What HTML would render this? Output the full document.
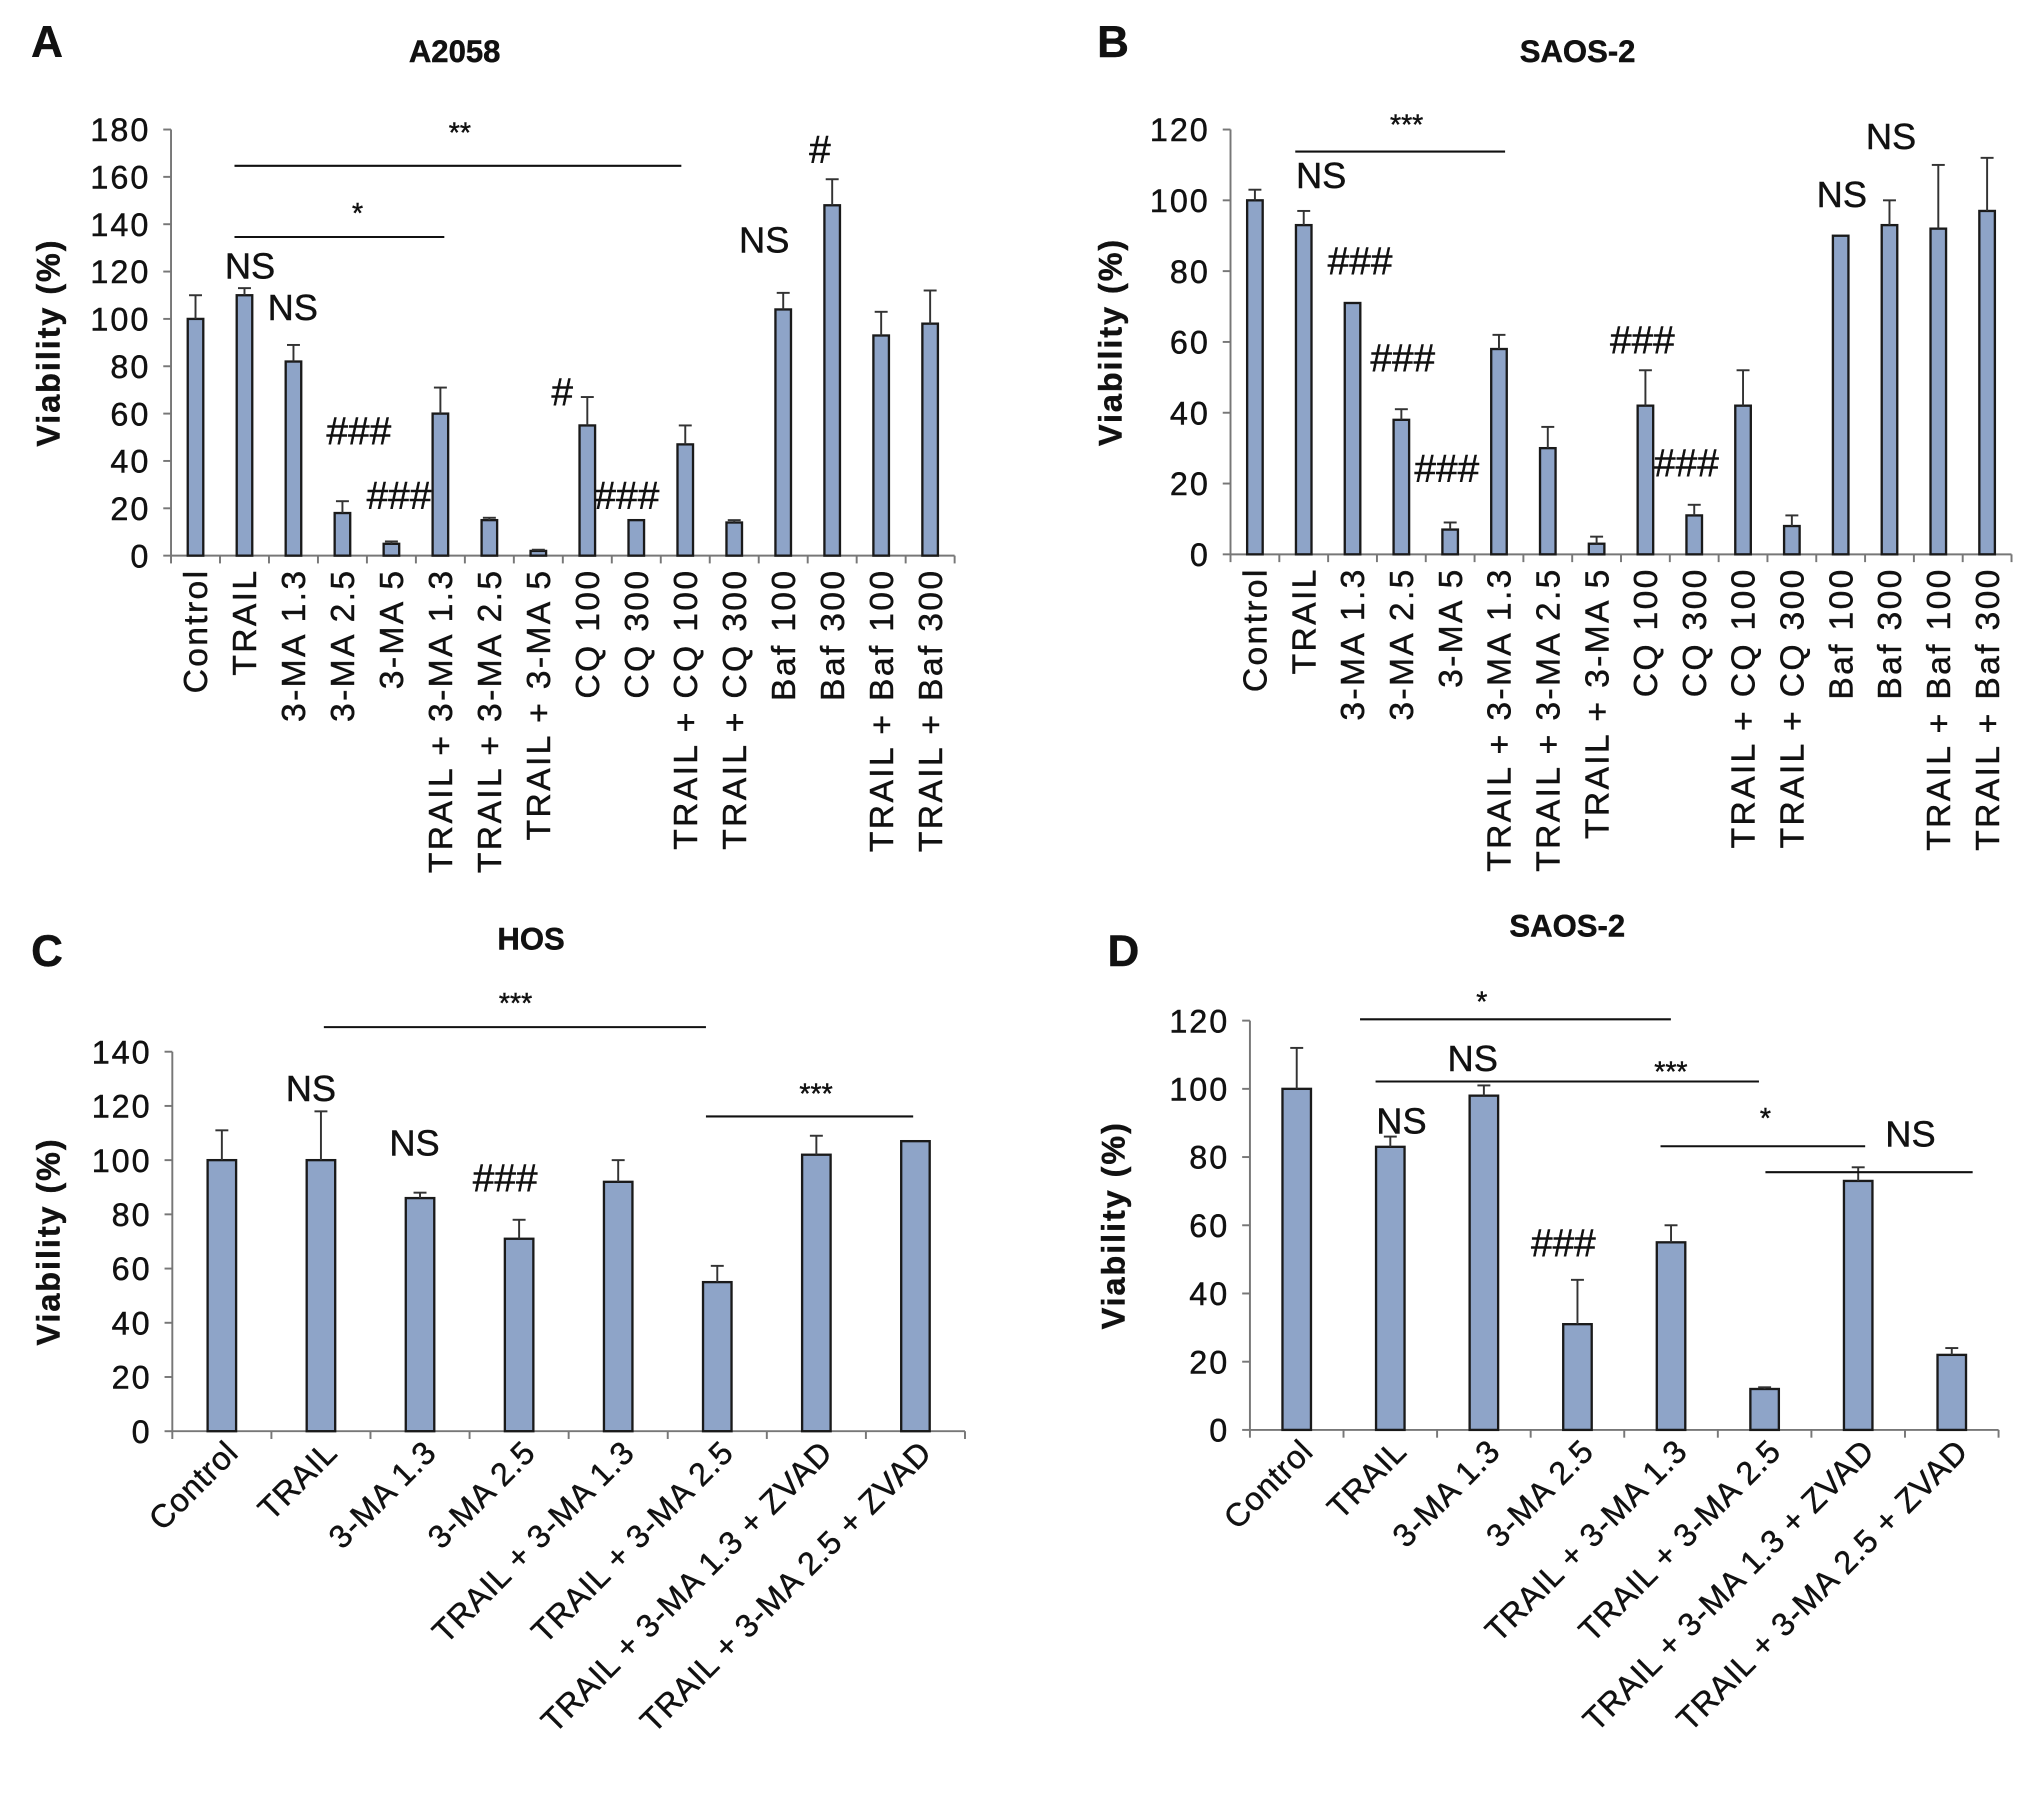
<!DOCTYPE html>
<html><head><meta charset="utf-8"><style>
html,body{margin:0;padding:0;background:#fff}
svg{display:block}
text{font-family:"Liberation Sans",Arial,sans-serif;fill:#111;stroke:#111;stroke-width:0.35}
</style></head><body>
<svg id="fig" width="2031" height="1812" viewBox="0 0 1568 1399" xmlns="http://www.w3.org/2000/svg"></svg>
<script>
// Panel A data
const catsA=["Control","TRAIL","3-MA 1.3","3-MA 2.5","3-MA 5","TRAIL + 3-MA 1.3","TRAIL + 3-MA 2.5","TRAIL + 3-MA 5","CQ 100","CQ 300","TRAIL + CQ 100","TRAIL + CQ 300","Baf 100","Baf 300","TRAIL + Baf 100","TRAIL + Baf 300"];
const valsA=[100,110,82,18,5,60,15,2,55,15,47,14,104,148,93,98];
const errA=[10,3,7,5,1,11,1,0.5,12,0,8,1,7,11,10,14];
const ticksA=[0,20,40,60,80,100,120,140,160,180];
// Panel B data
const catsB=catsA.slice();
const valsB=[100,93,71,38,7,58,30,3,42,11,42,8,90,93,92,97];
const errB=[3,4,0,3,2,4,6,2,10,3,10,3,0,7,18,15];
const ticksB=[0,20,40,60,80,100,120];
// Panel C data
const catsC=["Control","TRAIL","3-MA 1.3","3-MA 2.5","TRAIL + 3-MA 1.3","TRAIL + 3-MA 2.5","TRAIL + 3-MA 1.3 + ZVAD","TRAIL + 3-MA 2.5 + ZVAD"];
const valsC=[100,100,86,71,92,55,102,107];
const errC=[11,18,2,7,8,6,7,0];
const ticksC=[0,20,40,60,80,100,120,140];
// Panel D data
const catsD=catsC.slice();
const valsD=[100,83,98,31,55,12,73,22];
const errD=[12,3,3,13,5,0.5,4,2];
const ticksD=[0,20,40,60,80,100,120];

const svg=document.getElementById('fig');
const NS='http://www.w3.org/2000/svg';
function mk(tag,attrs,parent){const e=document.createElementNS(NS,tag);for(const k in attrs)e.setAttribute(k,attrs[k]);(parent||svg).appendChild(e);return e;}
function txt(s,x,y,size,parent,extra){const t=mk('text',Object.assign({x:x,y:y,'font-size':size},extra||{}),parent);t.textContent=s;return t;}

function panel(o){
  const g=mk('g',{});
  
  
  const ymax=o.ticks[o.ticks.length-1];
  const Y=v=>o.y0-(v/ymax)*(o.y0-o.yTop);
  const n=o.cats.length, cw=(o.x1-o.x0)/n;
  const X=i=>o.x0+cw*(i+0.5);
  const L=txt(o.letter,o.letterX,o.letterY,34,g,{'font-weight':'bold'});
  
  
  const T=txt(o.title,o.titleX,o.titleY,24,g,{'font-weight':'bold','text-anchor':'middle'});
  
  
  const ya=mk('line',{x1:o.x0,y1:o.yTop,x2:o.x0,y2:o.y0,stroke:'#777','stroke-width':1.5},g);
  
  
  o.ticks.forEach(t=>{
    mk('line',{x1:o.x0-6,y1:Y(t),x2:o.x0,y2:Y(t),stroke:'#777','stroke-width':1.5},g);
    const tl=txt(String(t),o.x0-16,Y(t)+9,25,g,{'text-anchor':'end','letter-spacing':1.5});
    
    
  });
  const yl=txt('Viability (%)',0,0,25,g,{'text-anchor':'middle','font-weight':'bold','letter-spacing':1.5,transform:`translate(${o.ylabX},${(o.y0+o.yTop)/2}) rotate(-90)`});
  
  
  const xa=mk('line',{x1:o.x0,y1:o.y0,x2:o.x1,y2:o.y0,stroke:'#777','stroke-width':1.5},g);
  
  
  for(let i=0;i<=n;i++)mk('line',{x1:o.x0+cw*i,y1:o.y0,x2:o.x0+cw*i,y2:o.y0+6,stroke:'#777','stroke-width':1.5},g);
  o.cats.forEach((c,i)=>{
    const x=X(i),v=o.vals[i],e=o.err[i];
    const b=mk('rect',{x:x-o.bw/2,y:Y(v),width:o.bw,height:o.y0-Y(v),fill:'#8ea4c8',stroke:'#1a1a1a','stroke-width':1.8},g);
    
    
    if(e>0){
      mk('line',{x1:x,y1:Y(v),x2:x,y2:Y(v+e),stroke:'#333','stroke-width':1.5},g);
      mk('line',{x1:x-5,y1:Y(v+e),x2:x+5,y2:Y(v+e),stroke:'#333','stroke-width':1.5},g);
    }
    let lab;
    if(o.rot===90){
      lab=txt(c,0,0,26,g,{'text-anchor':'end','letter-spacing':1.8,transform:`translate(${x+9},${o.y0+10}) rotate(-90)`});
    }else{
      lab=txt(c,0,0,25,g,{'text-anchor':'end','letter-spacing':0.6,transform:`translate(${x+14},${o.y0+18}) rotate(-45)`});
    }
    
    
  });
  o.lines.forEach(l=>{
    const ln=mk('line',{x1:l[0],y1:l[2],x2:l[1],y2:l[2],stroke:'#111','stroke-width':1.6},g);
    
    
  });
  o.notes.forEach(a=>{
    const isHash=a[0].indexOf('#')>=0;
    const t=txt(a[0],a[1],a[2],a[3]||(isHash?30:28),g,{'text-anchor':'middle'});
    
    
  });
}

panel({id:'a',letter:'A',letterX:24,letterY:44,title:'A2058',titleX:351,titleY:48,
  cats:catsA,vals:valsA,err:errA,ticks:ticksA,x0:132,x1:737,y0:429,yTop:100,bw:12,ylabX:46,rot:90,
  lines:[[181,526,128],[181,343,183]],
  notes:[['**',355,110,22],['*',276,172,22],['NS',193,215],['NS',226,247],['###',277,343],['###',308,393],['#',434,313],['###',484,393],['NS',590,195],['#',633,126]]});
panel({id:'b',letter:'B',letterX:847,letterY:44,title:'SAOS-2',titleX:1218,titleY:48,
  cats:catsB,vals:valsB,err:errB,ticks:ticksB,x0:950,x1:1553,y0:428,yTop:100,bw:12,ylabX:866,rot:90,
  lines:[[1000,1162,117]],
  notes:[['***',1086,104,22],['NS',1020,145],['###',1050,212],['###',1083,287],['###',1117,372],['###',1268,273],['###',1302,368],['NS',1422,160],['NS',1460,115]]});
panel({id:'c',letter:'C',letterX:24,letterY:746,title:'HOS',titleX:410,titleY:733,
  cats:catsC,vals:valsC,err:errC,ticks:ticksC,x0:133,x1:745,y0:1105,yTop:812,bw:22,ylabX:46,rot:45,
  lines:[[250,545,793],[545,705,862]],
  notes:[['***',398,782,22],['***',630,852,22],['NS',240,850],['NS',320,892],['###',390,920]]});
panel({id:'d',letter:'D',letterX:855,letterY:746,title:'SAOS-2',titleX:1210,titleY:723,
  cats:catsD,vals:valsD,err:errD,ticks:ticksD,x0:965,x1:1543,y0:1104,yTop:788,bw:22,ylabX:868,rot:45,
  lines:[[1050,1290,787],[1062,1358,835],[1282,1440,885],[1363,1523,905]],
  notes:[['*',1144,781,22],['NS',1137,827],['***',1290,835,22],['*',1363,871,22],['NS',1475,885],['NS',1082,875],['###',1207,970]]});
</script>
</body></html>
